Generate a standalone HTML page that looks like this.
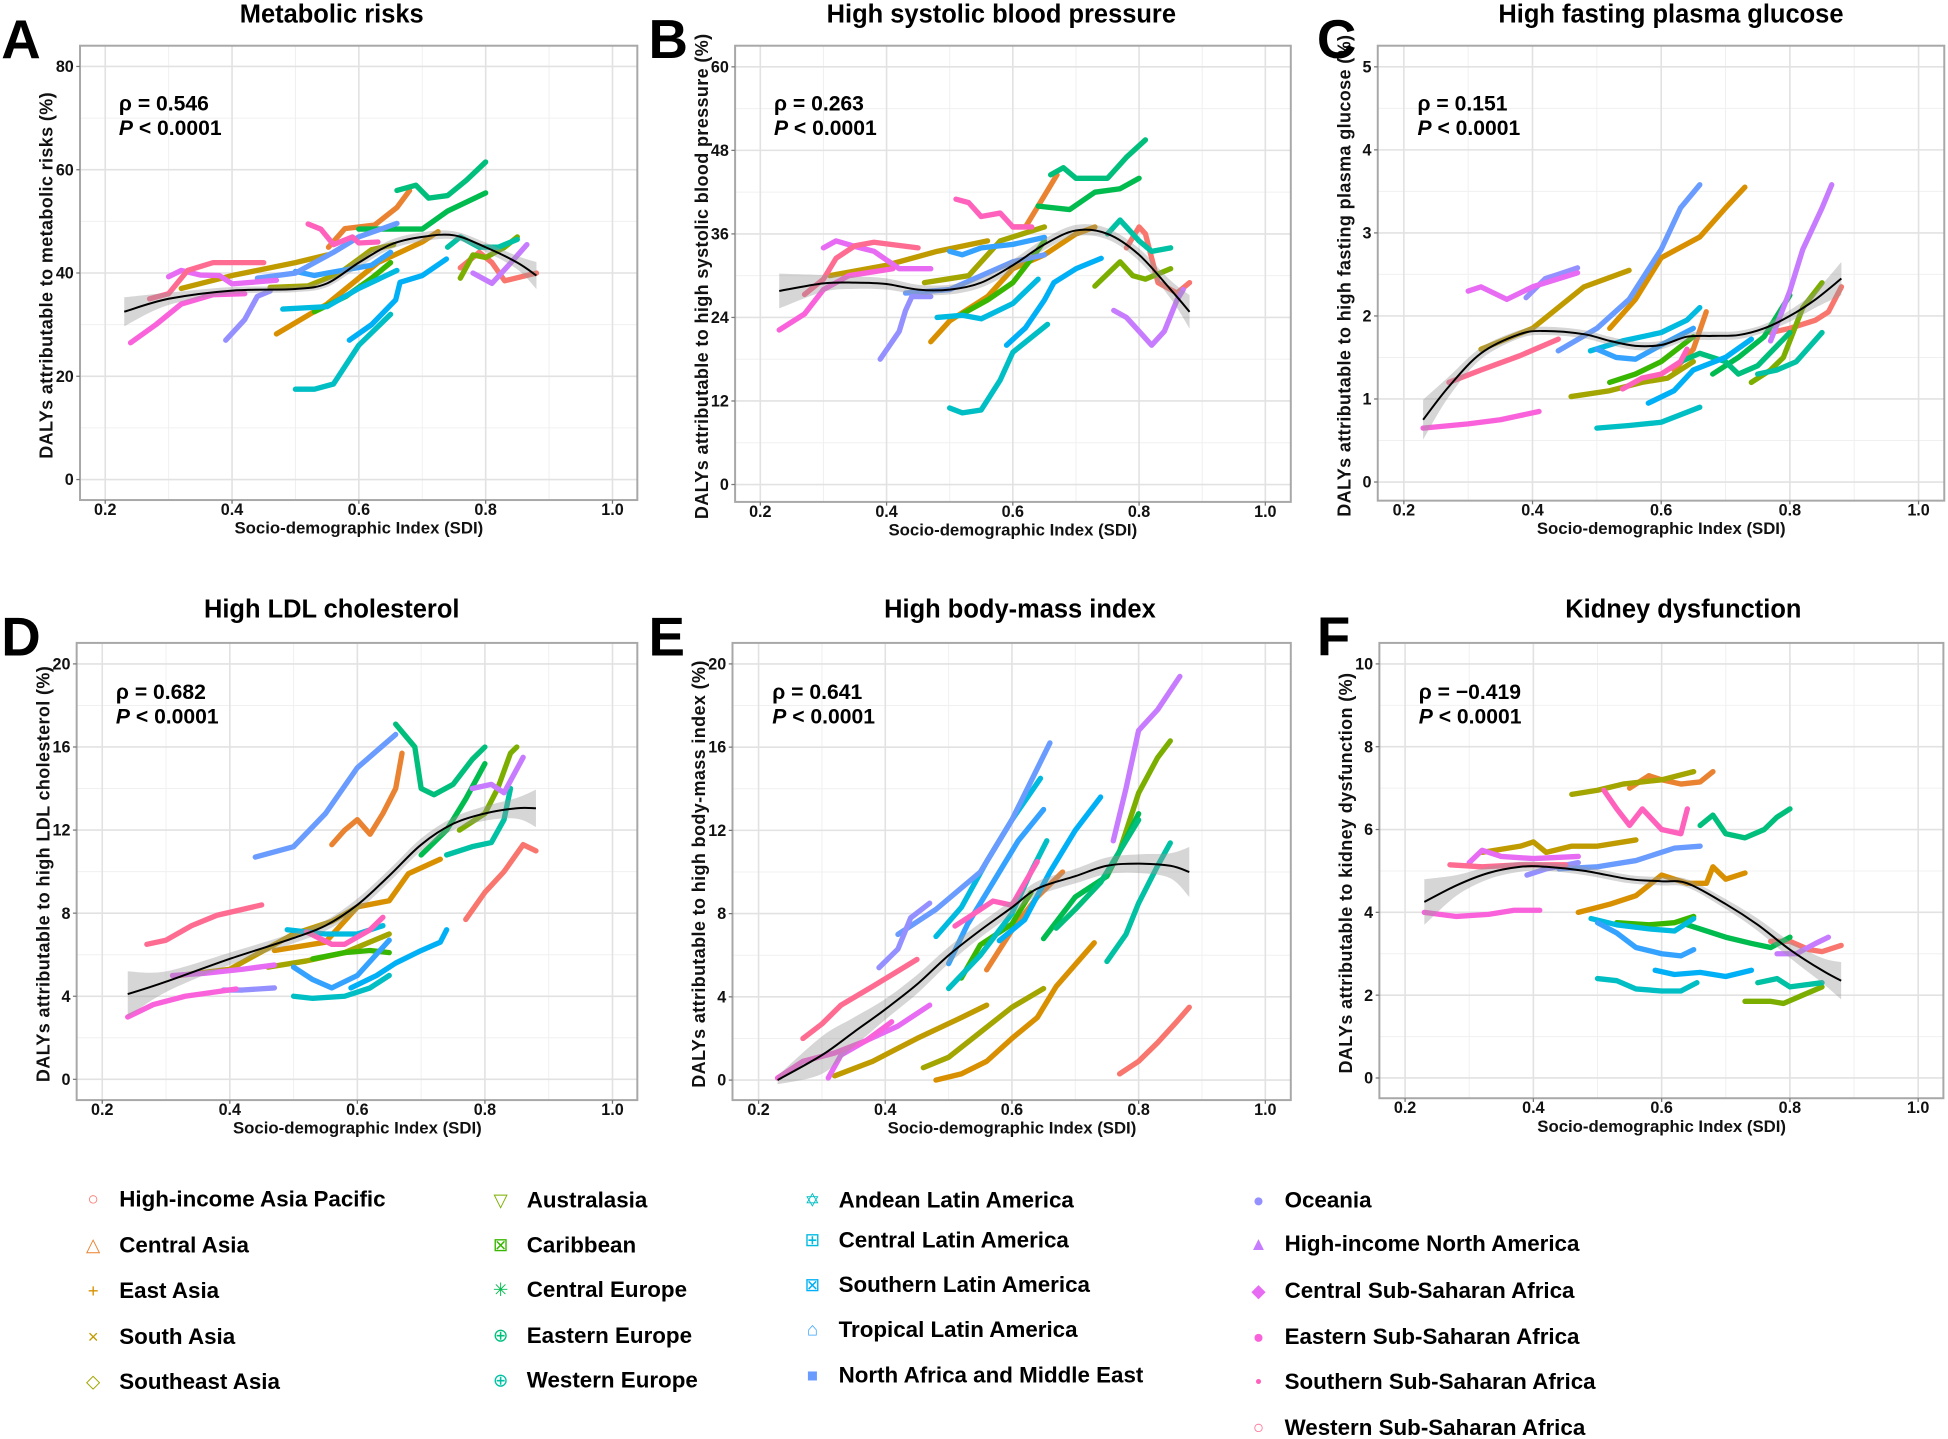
<!DOCTYPE html>
<html><head><meta charset="utf-8"><style>
html,body{margin:0;padding:0;background:#fff;}
svg{display:block;font-family:"Liberation Sans",Arial,sans-serif;}
</style></head><body>
<svg id="fig" width="1948" height="1439" viewBox="0 0 1568 1158.3" xmlns="http://www.w3.org/2000/svg">
<rect width="1568" height="1158.3" fill="#fff"/>
<g id="panels"></g>
<g id="legend"></g>
</svg>
<script>
const regions = ["High-income Asia Pacific","Central Asia","East Asia","South Asia","Southeast Asia","Australasia","Caribbean","Central Europe","Eastern Europe","Western Europe","Andean Latin America","Central Latin America","Southern Latin America","Tropical Latin America","North Africa and Middle East","Oceania","High-income North America","Central Sub-Saharan Africa","Eastern Sub-Saharan Africa","Southern Sub-Saharan Africa","Western Sub-Saharan Africa"];
const colors = ["#F8766D","#EA8331","#D89000","#C09B00","#A3A500","#7CAE00","#39B600","#00BB4E","#00BF7D","#00C1A3","#00BFC4","#00BAE0","#00B0F6","#35A2FF","#6A9BFF","#9590FF","#C77CFF","#E76BF3","#FA62DB","#FF62BC","#FF6C91"];
const symbols = ["○","△","+","×","◇","▽","⊠","✳","⊕","⊕","✡","⊞","⊠","⌂","■","●","▲","◆","●","•","○"];
const xTicks = [0.2,0.4,0.6,0.8,1.0];
const xTickLabels = ["0.2","0.4","0.6","0.8","1.0"];

const dataA = [
[[0.76,41],[0.79,44],[0.81,42],[0.83,38.5],[0.88,40]],
[[0.552,45],[0.578,48.6],[0.625,49.3],[0.66,52.7],[0.68,56]],
[[0.47,28.2],[0.55,34],[0.63,42],[0.7,46],[0.725,48]],
[[0.32,37],[0.4,39.5],[0.5,42],[0.55,43.5]],
[[0.46,37.2],[0.52,37.5],[0.57,40],[0.62,44.5],[0.655,45.5]],
[[0.76,39],[0.78,43.5],[0.8,43],[0.83,45],[0.85,47]],
[[0.53,32.5],[0.58,35.5],[0.62,39],[0.65,42]],
[[0.6,48.5],[0.7,48.5],[0.74,52],[0.8,55.5]],
[[0.66,56],[0.69,57],[0.71,54.5],[0.74,55],[0.77,58],[0.8,61.5]],
[[0.74,45],[0.76,47],[0.79,45],[0.82,45],[0.85,46.5]],
[[0.5,17.5],[0.53,17.5],[0.56,18.5],[0.6,26],[0.65,32]],
[[0.48,33],[0.55,33.5],[0.6,37],[0.66,40.5]],
[[0.585,27],[0.62,30],[0.658,34.8],[0.665,38.2],[0.7,39.5],[0.738,42.7]],
[[0.5,40.3],[0.53,39.5],[0.55,40],[0.62,41.5],[0.65,44]],
[[0.44,39],[0.5,40],[0.56,44],[0.6,47],[0.66,49.6]],
[[0.39,27],[0.42,31],[0.44,35.5],[0.46,36.5]],
[[0.78,40],[0.81,38],[0.84,42],[0.865,45.5]],
[[0.3,39.3],[0.32,40.5],[0.35,39.6],[0.38,39.5],[0.4,37.9],[0.47,38.6]],
[[0.24,26.5],[0.28,30],[0.32,34],[0.37,35.8],[0.42,36]],
[[0.52,49.5],[0.54,48.5],[0.56,45.5],[0.59,47],[0.6,45.8],[0.63,46]],
[[0.27,35],[0.3,36],[0.33,40.5],[0.37,42],[0.45,42]]
];
const smoothAx = [0.23,0.3,0.4,0.5,0.55,0.6,0.65,0.7,0.75,0.8,0.85,0.88];
const smoothAy = [32.5,35,36.6,36.9,38,42,45.5,47,47.3,45,42,39.5];
const smoothAse = [2.8,1.2,0.7,0.6,0.7,0.9,0.9,0.9,0.8,0.9,1.3,2.6];

const dataB = [
[[0.78,34],[0.8,37],[0.81,36],[0.83,29],[0.86,27.5],[0.88,29]],
[[0.6,37],[0.62,37],[0.64,40],[0.67,44.5]],
[[0.47,20.5],[0.5,23.5],[0.56,27],[0.6,31],[0.65,33],[0.7,36],[0.73,37]],
[[0.31,30],[0.4,31.5],[0.48,33.5],[0.56,35]],
[[0.46,29],[0.53,30],[0.58,35],[0.65,37]],
[[0.73,28.5],[0.77,32],[0.79,30],[0.81,29.5],[0.85,31]],
[[0.52,24.5],[0.56,26.5],[0.6,29],[0.63,32.5],[0.65,35]],
[[0.64,40],[0.69,39.5],[0.73,42],[0.77,42.5],[0.8,44]],
[[0.66,44.5],[0.68,45.5],[0.7,44],[0.75,44],[0.78,47],[0.81,49.5]],
[[0.75,36],[0.77,38],[0.8,35],[0.82,33.5],[0.85,34]],
[[0.5,11],[0.52,10.3],[0.55,10.7],[0.58,15],[0.6,19],[0.655,23]],
[[0.48,24],[0.52,24.3],[0.55,23.8],[0.6,26],[0.64,29.5]],
[[0.59,20],[0.62,22.5],[0.65,26.5],[0.665,29],[0.7,31],[0.74,32.5]],
[[0.5,33.5],[0.52,33],[0.55,34],[0.6,34.5],[0.65,35.5]],
[[0.43,27.5],[0.5,28],[0.55,30],[0.6,32],[0.65,33]],
[[0.39,18],[0.42,22],[0.43,25],[0.44,27],[0.47,27]],
[[0.76,25],[0.78,24],[0.8,22],[0.82,20],[0.84,22],[0.86,26.5],[0.87,28]],
[[0.3,34],[0.32,35],[0.35,34.2],[0.38,33.5],[0.42,31],[0.47,31]],
[[0.23,22.2],[0.27,24.5],[0.3,28],[0.34,30],[0.41,31]],
[[0.51,41],[0.53,40.5],[0.55,38.5],[0.58,39],[0.6,37],[0.63,37]],
[[0.27,27.3],[0.3,29.5],[0.32,32.5],[0.35,34.3],[0.38,34.8],[0.45,34]]
];
const smoothBx = [0.23,0.3,0.35,0.4,0.45,0.5,0.55,0.6,0.65,0.7,0.75,0.8,0.85,0.88];
const smoothBy = [27.8,28.9,29,28.8,28,28,29,31.5,34.5,36.5,36,33,28,24.8];
const smoothBse = [2.5,1.2,0.9,0.8,0.7,0.7,0.7,0.8,0.8,0.8,0.8,0.9,1.3,2.4];

const dataC = [
[[0.77,1.8],[0.8,1.85],[0.84,1.95],[0.86,2.05],[0.88,2.35]],
[[0.62,1.35],[0.65,1.6],[0.67,2.05]],
[[0.52,1.85],[0.56,2.2],[0.6,2.7],[0.66,2.95],[0.7,3.3],[0.73,3.55]],
[[0.32,1.6],[0.4,1.85],[0.48,2.35],[0.55,2.55]],
[[0.46,1.03],[0.52,1.1],[0.57,1.2],[0.61,1.25],[0.65,1.45]],
[[0.74,1.2],[0.77,1.35],[0.79,1.5],[0.8,1.7],[0.82,2.1],[0.85,2.4]],
[[0.52,1.2],[0.56,1.3],[0.6,1.45],[0.65,1.75]],
[[0.68,1.3],[0.72,1.5],[0.76,1.75],[0.8,2.25]],
[[0.63,1.45],[0.66,1.55],[0.7,1.45],[0.72,1.3],[0.75,1.4],[0.8,1.8]],
[[0.75,1.3],[0.78,1.35],[0.81,1.45],[0.85,1.8]],
[[0.5,0.65],[0.55,0.68],[0.6,0.72],[0.66,0.9]],
[[0.49,1.58],[0.54,1.7],[0.6,1.8],[0.64,1.95],[0.66,2.1]],
[[0.58,0.95],[0.62,1.1],[0.65,1.35],[0.7,1.5],[0.74,1.72]],
[[0.5,1.6],[0.53,1.5],[0.56,1.48],[0.6,1.65],[0.65,1.85]],
[[0.44,1.58],[0.5,1.85],[0.55,2.2],[0.6,2.8],[0.63,3.3],[0.66,3.58]],
[[0.39,2.22],[0.42,2.45],[0.44,2.5],[0.47,2.58]],
[[0.77,1.7],[0.8,2.3],[0.82,2.8],[0.85,3.3],[0.865,3.58]],
[[0.3,2.3],[0.32,2.35],[0.36,2.2],[0.4,2.35],[0.47,2.52]],
[[0.23,0.65],[0.3,0.7],[0.35,0.75],[0.41,0.85]],
[[0.54,1.12],[0.57,1.25],[0.6,1.3],[0.63,1.45],[0.64,1.6]],
[[0.27,1.2],[0.32,1.35],[0.38,1.52],[0.44,1.72]]
];
const smoothCx = [0.23,0.27,0.32,0.38,0.42,0.48,0.52,0.56,0.6,0.64,0.68,0.72,0.76,0.8,0.84,0.88];
const smoothCy = [0.75,1.15,1.55,1.78,1.82,1.78,1.7,1.64,1.65,1.75,1.76,1.77,1.85,2.0,2.2,2.45];
const smoothCse = [0.24,0.12,0.07,0.05,0.05,0.05,0.05,0.05,0.05,0.05,0.05,0.05,0.05,0.07,0.1,0.2];

const dataD = [
[[0.77,7.7],[0.8,9],[0.83,10],[0.86,11.3],[0.88,11]],
[[0.56,11.3],[0.58,12],[0.6,12.5],[0.62,11.8],[0.64,12.8],[0.66,14],[0.67,15.7]],
[[0.47,6.2],[0.55,6.6],[0.6,8.3],[0.65,8.6],[0.68,9.9],[0.73,10.6]],
[[0.32,5],[0.4,5.3],[0.5,7],[0.56,7.6],[0.6,8.3]],
[[0.46,5.4],[0.52,5.7],[0.58,6.1],[0.65,7]],
[[0.76,12],[0.8,12.8],[0.82,14],[0.84,15.7],[0.85,16]],
[[0.53,5.8],[0.58,6.1],[0.62,6.2],[0.65,6.1]],
[[0.7,10.8],[0.74,12],[0.77,13.5],[0.8,15.2]],
[[0.66,17.1],[0.69,16],[0.7,14],[0.72,13.7],[0.75,14.2],[0.78,15.4],[0.8,16]],
[[0.74,10.8],[0.78,11.2],[0.81,11.4],[0.83,12.5],[0.84,14]],
[[0.5,4],[0.53,3.9],[0.58,4],[0.62,4.4],[0.65,5]],
[[0.49,7.2],[0.55,7],[0.6,7],[0.64,7.4]],
[[0.59,4.4],[0.63,5],[0.66,5.6],[0.7,6.2],[0.73,6.6],[0.74,7.2]],
[[0.5,5.4],[0.53,4.8],[0.56,4.4],[0.6,5],[0.65,6.7]],
[[0.44,10.7],[0.5,11.2],[0.55,12.8],[0.6,15],[0.66,16.6]],
[[0.39,4.3],[0.42,4.3],[0.47,4.4]],
[[0.78,14],[0.81,14.2],[0.83,13.8],[0.86,15.5]],
[[0.31,5],[0.36,5.1],[0.42,5.3],[0.47,5.5]],
[[0.24,3],[0.28,3.6],[0.33,4],[0.41,4.35]],
[[0.52,7.1],[0.56,6.5],[0.58,6.5],[0.62,7.2],[0.64,7.8]],
[[0.27,6.5],[0.3,6.7],[0.34,7.4],[0.38,7.9],[0.45,8.4]]
];
const smoothDx = [0.24,0.3,0.4,0.5,0.55,0.6,0.65,0.7,0.75,0.8,0.85,0.88];
const smoothDy = [4.1,4.7,5.8,6.8,7.4,8.4,9.8,11.3,12.3,12.8,13.05,13.05];
const smoothDse = [1.1,0.5,0.3,0.25,0.25,0.3,0.3,0.3,0.3,0.35,0.5,0.9];

const dataE = [
[[0.77,0.3],[0.8,0.9],[0.83,1.8],[0.86,2.8],[0.88,3.5]],
[[0.56,5.3],[0.6,7.2],[0.64,8.8],[0.68,10]],
[[0.48,0],[0.52,0.3],[0.56,0.9],[0.6,2],[0.64,3],[0.67,4.5],[0.73,6.6]],
[[0.32,0.2],[0.38,0.9],[0.45,2],[0.52,3],[0.56,3.6]],
[[0.46,0.6],[0.5,1.1],[0.55,2.3],[0.6,3.5],[0.65,4.4]],
[[0.75,9.8],[0.77,11],[0.8,13.8],[0.83,15.5],[0.85,16.3]],
[[0.52,4.9],[0.55,6.5],[0.6,7.5],[0.63,9]],
[[0.65,6.8],[0.7,8.8],[0.75,9.8],[0.8,12.8]],
[[0.67,7.3],[0.7,8.2],[0.74,9.5],[0.78,11.5],[0.8,12.5]],
[[0.75,5.7],[0.78,7],[0.8,8.5],[0.83,10.3],[0.85,11.4]],
[[0.5,4.4],[0.55,6],[0.6,8],[0.63,10],[0.655,11.5]],
[[0.48,6.9],[0.52,8.3],[0.56,10.5],[0.6,12.5],[0.645,14.5]],
[[0.58,6.7],[0.62,7.7],[0.66,10],[0.7,12],[0.74,13.6]],
[[0.5,5.6],[0.53,7.5],[0.57,9.5],[0.61,11.5],[0.65,13]],
[[0.42,7],[0.48,8.2],[0.55,10],[0.6,12.5],[0.66,16.2]],
[[0.39,5.4],[0.42,6.3],[0.44,7.8],[0.47,8.5]],
[[0.76,11.5],[0.78,14],[0.8,16.8],[0.83,17.8],[0.865,19.4]],
[[0.31,0.1],[0.33,1.2],[0.37,1.9],[0.42,2.6],[0.47,3.6]],
[[0.23,0.1],[0.27,0.9],[0.32,1.3],[0.37,1.9],[0.41,2.8]],
[[0.51,7.4],[0.53,7.8],[0.57,8.6],[0.6,8.4],[0.64,10.5]],
[[0.27,2],[0.3,2.7],[0.33,3.6],[0.38,4.5],[0.45,5.8]]
];
const smoothEx = [0.23,0.3,0.35,0.4,0.45,0.5,0.55,0.6,0.64,0.7,0.75,0.8,0.85,0.88];
const smoothEy = [0,1.2,2.3,3.4,4.6,6,7.2,8.3,9.2,9.8,10.3,10.4,10.3,10];
const smoothEse = [0.2,0.9,0.7,0.5,0.45,0.4,0.35,0.35,0.35,0.35,0.4,0.45,0.6,1.2];

const dataF = [
[[0.77,3.3],[0.8,3.3],[0.83,3.1],[0.85,3.05],[0.88,3.2]],
[[0.55,7],[0.58,7.3],[0.6,7.2],[0.63,7.1],[0.66,7.15],[0.68,7.4]],
[[0.47,4],[0.52,4.2],[0.56,4.4],[0.6,4.9],[0.64,4.7],[0.67,4.7],[0.68,5.1],[0.7,4.8],[0.73,4.95]],
[[0.32,5.45],[0.38,5.6],[0.4,5.7],[0.42,5.45],[0.46,5.6],[0.5,5.6],[0.56,5.75]],
[[0.46,6.85],[0.5,6.95],[0.54,7.1],[0.6,7.2],[0.65,7.4]],
[[0.73,1.85],[0.77,1.85],[0.79,1.8],[0.82,2],[0.85,2.2]],
[[0.53,3.75],[0.58,3.7],[0.62,3.75],[0.65,3.9]],
[[0.64,3.7],[0.7,3.4],[0.74,3.25],[0.77,3.15],[0.8,3.4]],
[[0.66,6.1],[0.68,6.35],[0.7,5.9],[0.73,5.8],[0.76,6],[0.78,6.3],[0.8,6.5]],
[[0.75,2.3],[0.78,2.4],[0.8,2.2],[0.85,2.3]],
[[0.5,2.4],[0.53,2.35],[0.56,2.15],[0.6,2.1],[0.63,2.1],[0.655,2.3]],
[[0.49,3.85],[0.53,3.7],[0.58,3.6],[0.62,3.55],[0.65,3.85]],
[[0.59,2.6],[0.62,2.5],[0.66,2.55],[0.7,2.45],[0.74,2.6]],
[[0.5,3.75],[0.53,3.5],[0.56,3.15],[0.6,3.0],[0.63,2.95],[0.65,3.1]],
[[0.44,5.05],[0.5,5.1],[0.56,5.25],[0.62,5.55],[0.66,5.6]],
[[0.39,4.9],[0.42,5.05],[0.47,5.2]],
[[0.78,3.0],[0.81,3.0],[0.84,3.25],[0.86,3.4]],
[[0.3,5.2],[0.32,5.5],[0.35,5.35],[0.4,5.3],[0.47,5.35]],
[[0.23,4],[0.28,3.9],[0.33,3.95],[0.37,4.05],[0.41,4.05]],
[[0.51,6.95],[0.53,6.5],[0.55,6.1],[0.57,6.5],[0.6,6],[0.63,5.9],[0.64,6.5]],
[[0.27,5.15],[0.32,5.1],[0.38,5.15],[0.45,5.15]]
];
const smoothFx = [0.23,0.28,0.33,0.38,0.42,0.48,0.55,0.6,0.64,0.7,0.75,0.8,0.85,0.88];
const smoothFy = [4.25,4.65,4.95,5.1,5.1,5.0,4.8,4.75,4.7,4.2,3.7,3.1,2.6,2.35];
const smoothFse = [0.55,0.25,0.15,0.12,0.1,0.1,0.1,0.1,0.1,0.12,0.15,0.2,0.3,0.45];

const panels = [
 {key:"a",letter:"A",title:"Metabolic risks",ytitle:"DALYs attributable to metabolic risks (%)",rho:"0.546",yTicks:[0,20,40,60,80],
  fl:64.4,fr:513,ft:36.8,fb:402.5,x02:84.7,x10:493,y0:386,yTop:53.5,ymax:80,data:dataA,sx:smoothAx,sy:smoothAy,se:smoothAse,titleY:18,titleX:267,statY:52,letterX:1},
 {key:"b",letter:"B",title:"High systolic blood pressure",ytitle:"DALYs attributable to high systolic blood pressure (%)",rho:"0.263",yTicks:[0,12,24,36,48,60],
  fl:591.7,fr:1039,ft:36.8,fb:404,x02:612,x10:1018.5,y0:390,yTop:53.8,ymax:60,data:dataB,sx:smoothBx,sy:smoothBy,se:smoothBse,titleY:18,titleX:806,statY:52,letterX:522},
 {key:"c",letter:"C",title:"High fasting plasma glucose",ytitle:"DALYs attributable to high fasting plasma glucose (%)",rho:"0.151",yTicks:[0,1,2,3,4,5],
  fl:1109,fr:1565,ft:36.8,fb:403,x02:1130,x10:1544.3,y0:388,yTop:53.8,ymax:5,data:dataC,sx:smoothCx,sy:smoothCy,se:smoothCse,titleY:18,titleX:1345,statY:52,letterX:1060},
 {key:"d",letter:"D",title:"High LDL cholesterol",ytitle:"DALYs attributable to high LDL cholesterol (%)",rho:"0.682",yTicks:[0,4,8,12,16,20],
  fl:61.7,fr:513,ft:517.5,fb:885.5,x02:82.3,x10:493,y0:868.8,yTop:534.4,ymax:20,data:dataD,sx:smoothDx,sy:smoothDy,se:smoothDse,titleY:497,titleX:267,statY:45,letterX:1},
 {key:"e",letter:"E",title:"High body-mass index",ytitle:"DALYs attributable to high body-mass index (%)",rho:"0.641",yTicks:[0,4,8,12,16,20],
  fl:589.6,fr:1039,ft:517.5,fb:885.5,x02:610.6,x10:1018.5,y0:869.4,yTop:534.4,ymax:20,data:dataE,sx:smoothEx,sy:smoothEy,se:smoothEse,titleY:497,titleX:821,statY:45,letterX:522},
 {key:"f",letter:"F",title:"Kidney dysfunction",ytitle:"DALYs attributable to kidney dysfunction (%)",rho:"−0.419",yTicks:[0,2,4,6,8,10],
  fl:1110.3,fr:1564.3,ft:517.5,fb:884,x02:1131,x10:1544,y0:867.7,yTop:534.4,ymax:10,data:dataF,sx:smoothFx,sy:smoothFy,se:smoothFse,titleY:497,titleX:1355,statY:45,letterX:1060}
];

const NS="http://www.w3.org/2000/svg";
function mk(tag, attrs, parent){const e=document.createElementNS(NS,tag);for(const k in attrs)e.setAttribute(k,attrs[k]);if(parent)parent.appendChild(e);return e;}
function catmull(pts){
  if(pts.length<2)return "";
  let d="M"+pts[0][0].toFixed(1)+","+pts[0][1].toFixed(1);
  for(let i=0;i<pts.length-1;i++){
    const p0=pts[Math.max(0,i-1)],p1=pts[i],p2=pts[i+1],p3=pts[Math.min(pts.length-1,i+2)];
    const c1=[p1[0]+(p2[0]-p0[0])/6,p1[1]+(p2[1]-p0[1])/6];
    const c2=[p2[0]-(p3[0]-p1[0])/6,p2[1]-(p3[1]-p1[1])/6];
    d+=" C"+c1[0].toFixed(1)+","+c1[1].toFixed(1)+" "+c2[0].toFixed(1)+","+c2[1].toFixed(1)+" "+p2[0].toFixed(1)+","+p2[1].toFixed(1);
  }
  return d;
}
const root=document.getElementById("panels");
panels.forEach(p=>{
  const xs=v=>p.x02+(v-0.2)*(p.x10-p.x02)/0.8;
  const ys=v=>p.y0-v*(p.y0-p.yTop)/p.ymax;
  const g=mk("g",{},root);
  
  
  mk("rect",{x:p.fl,y:p.ft,width:p.fr-p.fl,height:p.fb-p.ft,fill:"#fff"},g);
  const grid=mk("g",{},g);
  
  
  [0.3,0.5,0.7,0.9].forEach(v=>mk("line",{x1:xs(v),x2:xs(v),y1:p.ft,y2:p.fb,stroke:"#f0f0f0","stroke-width":0.8},grid));
  const st=p.yTicks[1]-p.yTicks[0];
  for(let v=st/2; v<p.ymax+st; v+=st){const y=ys(v); if(y>p.ft&&y<p.fb) mk("line",{x1:p.fl,x2:p.fr,y1:y,y2:y,stroke:"#f0f0f0","stroke-width":0.8},grid);}
  xTicks.forEach(v=>mk("line",{x1:xs(v),x2:xs(v),y1:p.ft,y2:p.fb,stroke:"#e2e2e2","stroke-width":1.3},grid));
  p.yTicks.forEach(v=>mk("line",{x1:p.fl,x2:p.fr,y1:ys(v),y2:ys(v),stroke:"#e2e2e2","stroke-width":1.3},grid));
  p.data.forEach((s,i)=>{
    const pl=mk("polyline",{points:s.map(q=>xs(q[0]).toFixed(1)+","+ys(q[1]).toFixed(1)).join(" "),fill:"none",stroke:colors[i],"stroke-width":4.3,"stroke-linejoin":"round","stroke-linecap":"round"},g);
    
    
  });
  const up=p.sx.map((x,i)=>[xs(x),ys(p.sy[i]+p.se[i])]);
  const lo=p.sx.map((x,i)=>[xs(x),ys(p.sy[i]-p.se[i])]).reverse();
  const bd=catmull(up)+" L"+lo[0][0].toFixed(1)+","+lo[0][1].toFixed(1)+catmull(lo).replace(/^M[^ ]+/,"")+" Z";
  const band=mk("path",{d:bd,fill:"#999",opacity:0.4},g);
  
  
  const sm=mk("path",{d:catmull(p.sx.map((x,i)=>[xs(x),ys(p.sy[i])])),fill:"none",stroke:"#000","stroke-width":1.6},g);
  
  
  const fr=mk("rect",{x:p.fl,y:p.ft,width:p.fr-p.fl,height:p.fb-p.ft,fill:"none",stroke:"#a8a8a8","stroke-width":1.6},g);
  
  
  xTicks.forEach((v,i)=>{
    mk("line",{x1:xs(v),x2:xs(v),y1:p.fb,y2:p.fb+3,stroke:"#777","stroke-width":1},g);
    const t=mk("text",{x:xs(v),y:p.fb+12,"font-size":13,"font-weight":"bold","text-anchor":"middle",fill:"#111"},g);
    t.textContent=xTickLabels[i];
    
    
  });
  p.yTicks.forEach(v=>{
    mk("line",{x1:p.fl-3,x2:p.fl,y1:ys(v),y2:ys(v),stroke:"#777","stroke-width":1},g);
    const t=mk("text",{x:p.fl-5,y:ys(v)+4.5,"font-size":13,"font-weight":"bold","text-anchor":"end",fill:"#111"},g);
    t.textContent=String(v);
    
    
  });
  const xt=mk("text",{x:(p.x02+p.x10)/2,y:p.fb+27,"font-size":13.5,"font-weight":"bold","text-anchor":"middle",fill:"#111"},g);
  xt.textContent="Socio-demographic Index (SDI)";
  
  
  const cy=(p.ft+p.fb)/2+2, cx=p.fl-22;
  const yt=mk("text",{x:cx,y:cy,"font-size":14.5,"font-weight":"bold","text-anchor":"middle",fill:"#111","letter-spacing":"0.3",transform:"rotate(-90 "+cx+" "+cy+")"},g);
  yt.textContent=p.ytitle;
  
  
  const tt=mk("text",{x:p.titleX,y:p.titleY,"font-size":20.5,"font-weight":"bold","text-anchor":"middle",fill:"#000"},g);
  tt.textContent=p.title;
  
  
  const lt=mk("text",{x:p.letterX,y:p.ft+10,"font-size":44,"font-weight":"bold",fill:"#000"},g);
  lt.textContent=p.letter;
  
  
  const r1=mk("text",{x:p.x02+11,y:p.ft+p.statY,"font-size":17,"font-weight":"bold",fill:"#000"},g);
  r1.textContent="ρ = "+p.rho;
  
  
  const r2=mk("text",{x:p.x02+11,y:p.ft+p.statY+20,"font-size":17,"font-weight":"bold",fill:"#000"},g);
  r2.innerHTML='<tspan font-style="italic">P</tspan> &lt; 0.0001';
  
  
});

const legendCols=[[75,[965,1002,1039,1076,1112]],[403,[966,1002,1038,1075,1111]],[654,[966,998,1034,1070,1107]],[1013,[966,1001,1039,1076,1112,1149]]];
const lg=document.getElementById("legend");
let idx=0;
legendCols.forEach(c=>{
  c[1].forEach(y=>{
    const i=idx++;
    const e=mk("g",{},lg);
    
    
    const s=mk("text",{x:c[0],y:y+5,"font-size":15,"text-anchor":"middle",fill:colors[i]},e);
    s.textContent=symbols[i];
    const t=mk("text",{x:c[0]+21,y:y+6,"font-size":18,"font-weight":"bold",fill:"#000"},e);
    t.textContent=regions[i];
  });
});
</script>
</body></html>
